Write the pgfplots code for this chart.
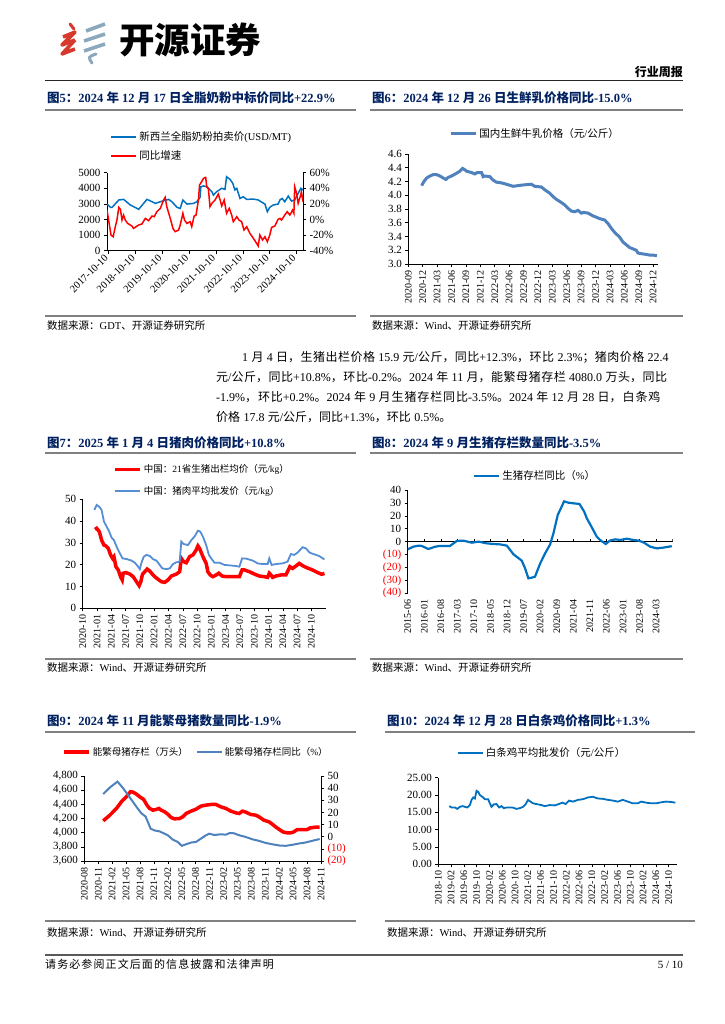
\documentclass[border=0pt]{standalone}
\usepackage{pgfplots}
\pgfplotsset{compat=1.18}
\usepackage{fontspec}
\setmainfont{Liberation Serif}
\newfontfamily\cjk{Noto Sans CJK SC}
\newfontfamily\cjkfoot[LetterSpace=10]{Noto Sans CJK SC}
\def\cjkcur{\cjk}
\newXeTeXintercharclass\CJKcls
\newcount\cjkc
\def\setcjkrange#1#2{\cjkc=#1\relax\loop\XeTeXcharclass\cjkc=\CJKcls\relax\ifnum\cjkc<#2\relax\advance\cjkc by 1\relax\repeat}
\setcjkrange{"3000}{"303F}
\setcjkrange{"4E00}{"9FFF}
\setcjkrange{"FF00}{"FFEF}
\XeTeXinterchartoks 0 \CJKcls = {\cjkcur}
\XeTeXinterchartoks 4095 \CJKcls = {\cjkcur}
\XeTeXinterchartoks \CJKcls 0 = {\rmfamily}
\XeTeXinterchartoks \CJKcls 4095 = {\rmfamily}
\XeTeXinterchartokenstate=1

\definecolor{navy}{RGB}{0,32,96}
\definecolor{c5blue}{RGB}{0,112,192}
\definecolor{sblue}{RGB}{79,129,189}
\definecolor{c7blue}{RGB}{85,142,213}
\definecolor{rred}{RGB}{255,0,0}
\definecolor{logored}{RGB}{214,58,44}
\definecolor{logogray}{RGB}{140,168,188}
\definecolor{rule}{RGB}{128,128,128}

\pgfplotsset{
  myax/.style={scale only axis, anchor=south west,
    axis line style={black, line width=0.6pt},
    tick style={black, line width=0.5pt}, major tick length=3pt, tick align=outside,
    /pgf/number format/assume math mode=true, scaled ticks=false,
    yticklabel style={font=\fontsize{11}{11}\selectfont},
    xticklabel style={font=\fontsize{10}{10}\selectfont, rotate=90, anchor=east},
    legend style={draw=none, fill=none, font=\fontsize{10.5}{12}\selectfont, inner sep=0pt},
    legend cell align=left,
    legend image code/.code={\draw[##1] (0pt,0pt) -- (25pt,0pt);},
  }
}
\newcommand\ttl[1]{{\fontsize{12.5}{14}\selectfont\bfseries\color{navy}#1}}
\newcommand\src[1]{{\fontsize{10.5}{12}\selectfont #1}}

\begin{document}
\begin{tikzpicture}[x=1pt,y=1pt]
\path[use as bounding box] (0,0) rectangle (724,-1024);

% ---------- header ----------
\draw[logored, line width=3pt, line cap=round] (70,-24) -- (74,-29);
\draw[logored, line width=3.6pt, line join=round] (63,-37) -- (75,-32) -- (62,-45) -- (75,-40);
\draw[logored, line width=3.6pt, line join=round] (75,-40) -- (62,-54) -- (75,-49);
\draw[logogray, line width=3.6pt, line join=round] (86,-31) -- (105,-24);
\draw[logogray, line width=3.6pt, line join=round] (84,-41) -- (105,-34);
\draw[logogray, line width=3.6pt, line join=round] (84,-51) -- (105,-44);
\draw[logogray, line width=3pt, line cap=round] (96,-54) .. controls (88,-57) .. (92,-63);
\node[anchor=base west, inner sep=0pt] at (119,-54) {\fontsize{35.5}{36}\selectfont\bfseries 开源证券};
\node[anchor=base east, inner sep=0pt] at (683,-77) {\fontsize{12}{14}\selectfont\bfseries 行业周报};
\draw[black!85, line width=1.3pt] (45,-80.5) -- (683,-80.5);

% ---------- titles and rules ----------
\node[anchor=base west, inner sep=0pt] at (47,-103) {\ttl{图5：2024 年 12 月 17 日全脂奶粉中标价同比+22.9\%}};
\node[anchor=base west, inner sep=0pt] at (372,-103) {\ttl{图6：2024 年 12 月 26 日生鲜乳价格同比-15.0\%}};
\draw[rule, line width=1.4pt] (45,-110) -- (356,-110);
\draw[rule, line width=1.4pt] (370,-110) -- (683,-110);

\draw[rule, line width=1.2pt] (45,-316) -- (356,-316);
\draw[rule, line width=1.2pt] (370,-316) -- (683,-316);
\node[anchor=base west, inner sep=0pt] at (47,-329) {\src{数据来源：GDT、开源证券研究所}};
\node[anchor=base west, inner sep=0pt] at (372,-329) {\src{数据来源：Wind、开源证券研究所}};

% ---------- body text ----------
\node[anchor=base west, inner sep=0pt, text width=462pt] at (216,-361) {\fontsize{12}{20.2}\selectfont\parindent=0pt
\XeTeXlinebreaklocale "zh"\XeTeXlinebreakskip=0pt plus 1pt\relax
\hspace*{26pt}1 月 4 日，生猪出栏价格 15.9 元/公斤，同比+12.3\%，环比 2.3\%；猪肉价格 22.4\linebreak
元/公斤，同比+10.8\%，环比-0.2\%。2024 年 11 月，能繁母猪存栏 4080.0 万头，同比\linebreak
-1.9\%，环比+0.2\%。2024 年 9 月生猪存栏同比-3.5\%。2024 年 12 月 28 日，白条鸡\linebreak
价格 17.8 元/公斤，同比+1.3\%，环比 0.5\%。\par};

\node[anchor=base west, inner sep=0pt] at (47,-447) {\ttl{图7：2025 年 1 月 4 日猪肉价格同比+10.8\%}};
\node[anchor=base west, inner sep=0pt] at (372,-447) {\ttl{图8：2024 年 9 月生猪存栏数量同比-3.5\%}};
\draw[rule, line width=1.4pt] (45,-453) -- (356,-453);
\draw[rule, line width=1.4pt] (370,-453) -- (683,-453);

\draw[rule, line width=1.2pt] (45,-659) -- (356,-659);
\draw[rule, line width=1.2pt] (370,-659) -- (683,-659);
\node[anchor=base west, inner sep=0pt] at (47,-671) {\src{数据来源：Wind、开源证券研究所}};
\node[anchor=base west, inner sep=0pt] at (372,-671) {\src{数据来源：Wind、开源证券研究所}};

\node[anchor=base west, inner sep=0pt] at (47,-725) {\ttl{图9：2024 年 11 月能繁母猪数量同比-1.9\%}};
\node[anchor=base west, inner sep=0pt] at (387,-725) {\ttl{图10：2024 年 12 月 28 日白条鸡价格同比+1.3\%}};
\draw[rule, line width=1.4pt] (45,-732) -- (356,-732);
\draw[rule, line width=1.4pt] (385,-732) -- (695,-732);

\draw[rule, line width=1.2pt] (45,-921) -- (356,-921);
\draw[rule, line width=1.2pt] (385,-921) -- (695,-921);
\node[anchor=base west, inner sep=0pt] at (47,-936) {\src{数据来源：Wind、开源证券研究所}};
\node[anchor=base west, inner sep=0pt] at (387,-936) {\src{数据来源：Wind、开源证券研究所}};

% ---------- footer ----------
\draw[black!65, line width=1.8pt] (45,-955) -- (683,-955);
\node[anchor=base west, inner sep=0pt] at (45,-968) {\fontsize{11}{12}\selectfont\def\cjkcur{\cjkfoot}请务必参阅正文后面的信息披露和法律声明};
\node[anchor=base east, inner sep=0pt] at (683,-968) {\fontsize{11}{12}\selectfont 5 / 10};

% ================= Chart 5 =================
\begin{axis}[myax, at={(107pt,-250.7pt)}, width=196pt, height=78pt,
  xmin=2017.71, xmax=2025.02, ymin=0, ymax=5000,
  axis x line*=bottom, axis y line*=left,
  ytick={0,1000,2000,3000,4000,5000}, /pgf/number format/1000 sep={},
  xtick={2017.775,2018.775,2019.775,2020.775,2021.775,2022.775,2023.775,2024.775},
  xticklabels={2017-10-10,2018-10-10,2019-10-10,2020-10-10,2021-10-10,2022-10-10,2023-10-10,2024-10-10},
  xticklabel style={rotate=-45, anchor=east, font=\fontsize{10.5}{10.5}\selectfont}]
\addplot[c5blue, line width=1.5pt] coordinates {
(2017.71,2990) (2017.84,2780) (2017.90,2780) (2018.15,3250) (2018.33,3290) (2018.58,2930) (2018.83,2710) (2018.89,2650) (2019.20,3290) (2019.39,3140) (2019.51,3030) (2019.70,3140) (2019.88,3230) (2020.01,3290) (2020.13,3140) (2020.32,2780) (2020.44,2710) (2020.54,3250) (2020.69,2990) (2020.93,3030) (2021.06,3140) (2021.18,3420) (2021.21,4100) (2021.31,4150) (2021.43,4100) (2021.62,3780) (2021.68,3570) (2021.80,3780) (2021.99,4000) (2022.11,3930) (2022.17,4740) (2022.30,4570) (2022.40,4320) (2022.48,3890) (2022.55,4000) (2022.67,3350) (2022.79,3460) (2022.92,3290) (2023.17,3310) (2023.35,3250) (2023.47,3120) (2023.60,2990) (2023.69,2500) (2023.78,2780) (2023.91,2930) (2024.09,2990) (2024.16,3250) (2024.24,3350) (2024.34,3140) (2024.47,3500) (2024.59,3180) (2024.71,3250) (2024.84,3680) (2024.94,4000) (2025.02,3890)};
\end{axis}
\begin{axis}[myax, at={(107pt,-250.7pt)}, width=196pt, height=78pt,
  xmin=2017.71, xmax=2025.02, ymin=-40, ymax=60,
  axis x line=none, axis y line*=right,
  ytick={-40,-20,0,20,40,60}, yticklabel={\pgfmathprintnumber{\tick}\%},
  legend style={at={(0.015,1.55)}, anchor=north west, row sep=4pt}]
\addlegendimage{c5blue, line width=2.2pt}
\addlegendentry{新西兰全脂奶粉拍卖价(USD/MT)}
\addlegendimage{rred, line width=2.2pt}
\addlegendentry{同比增速}
\addplot[rred, line width=1.5pt, forget plot] coordinates {
(2017.71,12.1) (2017.86,-19.9) (2017.94,-22.1) (2018.02,-9.2) (2018.08,-0.7) (2018.15,15.5) (2018.21,13.0) (2018.27,-0.7) (2018.33,5.7) (2018.39,-0.7) (2018.48,-5.0) (2018.64,-8.4) (2018.70,-11.4) (2018.89,-7.1) (2019.01,-5.8) (2019.14,1.4) (2019.26,-1.5) (2019.39,4.4) (2019.47,3.6) (2019.57,10.0) (2019.70,14.3) (2019.82,25.0) (2019.88,28.4) (2019.94,16.4) (2020.07,1.4) (2020.17,-11.4) (2020.25,-15.6) (2020.38,-13.5) (2020.44,-7.1) (2020.54,7.9) (2020.60,-0.7) (2020.69,-5.0) (2020.81,-2.8) (2020.87,-9.2) (2020.96,4.4) (2021.03,5.7) (2021.12,25.0) (2021.16,44.2) (2021.24,48.5) (2021.31,52.7) (2021.39,54.0) (2021.43,42.0) (2021.49,39.9) (2021.55,16.4) (2021.62,20.7) (2021.74,25.0) (2021.86,32.6) (2021.93,25.0) (2021.99,17.3) (2022.08,25.0) (2022.17,7.9) (2022.27,14.3) (2022.36,5.7) (2022.42,-2.8) (2022.55,3.6) (2022.63,-0.7) (2022.73,-2.8) (2022.82,-13.5) (2022.92,-9.2) (2023.04,-17.8) (2023.17,-24.2) (2023.29,-30.6) (2023.35,-34.0) (2023.41,-19.9) (2023.51,-26.3) (2023.60,-22.1) (2023.69,-28.5) (2023.78,-19.9) (2023.85,-10.1) (2023.97,-8.4) (2024.09,0.2) (2024.16,1.4) (2024.22,-0.7) (2024.34,5.7) (2024.43,10.0) (2024.53,5.7) (2024.63,12.1) (2024.68,7.9) (2024.71,42.0) (2024.78,33.5) (2024.84,20.7) (2024.93,31.0) (2024.96,35.6) (2025.02,22.8)};
\end{axis}

% ================= Chart 6 =================
\begin{axis}[myax, at={(408.3pt,-264pt)}, width=249.7pt, height=110pt,
  xmin=0, xmax=52, ymin=3, ymax=4.6,
  axis x line*=bottom, axis y line*=left,
  ytick={3.0,3.2,3.4,3.6,3.8,4.0,4.2,4.4,4.6},
  yticklabel style={/pgf/number format/.cd, fixed, fixed zerofill, precision=1},
  xtick={0,3,...,51},
  xticklabels={2020-09,2020-12,2021-03,2021-06,2021-09,2021-12,2022-03,2022-06,2022-09,2022-12,2023-03,2023-06,2023-09,2023-12,2024-03,2024-06,2024-09,2024-12},
  legend style={at={(0.164,1.182)}, anchor=west}]
\addplot[sblue, line width=3pt] coordinates {
(2.77,4.14) (3.26,4.20) (3.81,4.25) (4.50,4.28) (5.20,4.30) (5.89,4.30) (6.58,4.28) (7.28,4.25) (7.83,4.23) (8.32,4.26) (9.01,4.28) (10.05,4.32) (10.74,4.35) (11.30,4.39) (11.78,4.37) (12.13,4.35) (13.17,4.33) (13.86,4.31) (14.35,4.33) (15.25,4.33) (15.59,4.27) (15.94,4.28) (16.98,4.27) (17.67,4.22) (18.36,4.19) (19.40,4.18) (20.44,4.16) (21.83,4.13) (22.87,4.14) (23.91,4.15) (25.64,4.16) (26.33,4.13) (27.72,4.12) (28.41,4.08) (29.45,4.03) (30.15,3.98) (30.84,3.94) (31.53,3.91) (32.57,3.86) (33.26,3.81) (33.96,3.77) (34.65,3.76) (35.34,3.78) (36.04,3.74) (36.52,3.75) (37.42,3.74) (38.46,3.70) (39.85,3.66) (40.89,3.64) (41.58,3.59) (42.27,3.52) (42.97,3.46) (44.01,3.39) (44.70,3.32) (45.39,3.28) (46.08,3.24) (46.78,3.22) (47.47,3.20) (47.82,3.16) (48.51,3.15) (49.55,3.14) (50.24,3.13) (50.94,3.13) (51.77,3.12)};
\addlegendentry{国内生鲜牛乳价格（元/公斤）}
\end{axis}

% ================= Chart 7 =================
\begin{axis}[myax, at={(82.7pt,-608.3pt)}, width=243pt, height=109pt,
  xmin=0, xmax=51, ymin=0, ymax=50,
  axis x line*=bottom, axis y line*=left,
  ytick={0,10,20,30,40,50},
  xtick={0,3,...,48},
  xticklabels={2020-10,2021-01,2021-04,2021-07,2021-10,2022-01,2022-04,2022-07,2022-10,2023-01,2023-04,2023-07,2023-10,2024-01,2024-04,2024-07,2024-10},
  legend style={at={(0.125,1.34)}, anchor=north west, row sep=8pt, font=\fontsize{9.5}{11}\selectfont}]
\addplot[rred, line width=3.5pt] coordinates {
(2.58,36.2) (2.93,36.7) (3.48,35.2) (3.97,31.3) (4.46,29.0) (4.88,28.6) (5.37,27.5) (5.85,24.5) (6.27,22.9) (6.55,23.7) (6.97,19.1) (7.46,17.6) (7.94,14.5) (8.29,13.0) (8.50,16.1) (9.06,16.4) (9.90,15.7) (10.59,14.5) (11.29,12.2) (11.85,10.4) (12.20,12.2) (12.54,15.6) (13.03,16.8) (13.52,18.0) (14.08,17.1) (14.63,15.6) (15.12,14.5) (15.82,13.3) (16.52,12.2) (17.21,11.9) (17.91,13.0) (18.61,14.8) (19.65,15.7) (20.35,16.8) (20.70,22.9) (21.18,21.4) (21.74,20.9) (22.44,23.7) (23.14,24.5) (23.83,26.8) (24.18,28.6) (24.53,27.5) (25.23,23.7) (25.92,20.6) (26.27,16.8) (26.76,15.3) (27.32,14.5) (28.01,15.3) (28.57,16.1) (29.27,14.8) (30.10,14.5) (31.50,14.5) (32.89,14.5) (33.45,17.6) (33.94,17.6) (34.98,16.8) (36.03,15.7) (37.07,14.8) (38.12,14.5) (38.82,14.2) (39.16,16.1) (39.51,15.3) (39.86,14.2) (40.56,14.8) (41.60,15.3) (42.65,15.3) (43.48,19.1) (44.04,18.3) (44.74,19.4) (45.44,20.6) (46.13,19.6) (46.83,18.8) (47.53,18.2) (48.22,17.6) (48.92,16.8) (49.62,16.1) (50.17,15.6) (50.73,16.0)};
\addlegendentry{中国：21省生猪出栏均价（元/kg）}
\addplot[c7blue, line width=1.8pt] coordinates {
(2.44,45.1) (2.93,47.4) (3.48,46.6) (3.97,45.1) (4.46,39.8) (5.02,37.5) (5.57,35.2) (6.06,32.4) (6.55,31.3) (7.11,28.3) (7.80,25.2) (8.36,22.9) (9.20,22.6) (10.24,21.9) (10.94,20.9) (11.64,19.1) (11.99,18.0) (12.33,20.9) (12.82,23.7) (13.38,24.5) (14.08,24.0) (14.77,22.5) (15.47,21.9) (16.17,19.9) (16.72,18.3) (17.56,18.0) (18.26,18.3) (18.95,20.3) (19.65,21.1) (20.35,21.4) (20.70,30.6) (21.18,29.5) (22.09,29.0) (22.79,31.3) (23.48,32.9) (24.18,35.6) (24.67,35.2) (25.23,32.9) (25.92,29.0) (26.48,24.5) (26.97,22.9) (27.67,20.9) (28.71,20.9) (29.76,19.9) (30.80,19.7) (32.20,19.4) (32.89,19.1) (33.45,22.9) (34.29,22.8) (35.68,21.9) (36.72,20.6) (37.77,20.3) (38.82,20.3) (39.16,22.9) (39.65,19.9) (40.56,20.3) (41.95,20.6) (43.00,21.4) (43.69,24.9) (44.39,24.5) (45.09,25.5) (46.13,28.0) (46.83,27.5) (47.67,25.5) (48.57,24.8) (49.62,24.0) (50.73,22.4)};
\addlegendentry{中国：猪肉平均批发价（元/kg）}
\end{axis}

% ================= Chart 8 =================
\begin{axis}[myax, at={(407.7pt,-593.3pt)}, width=265pt, height=103.3pt,
  xmin=0, xmax=112, ymin=-40, ymax=40,
  axis x line*=bottom, axis y line*=left,
  x axis line style={draw=none}, xtick style={draw=none},
  ytick={-40,-30,-20,-10,0,10,20,30,40},
  yticklabels={{\textcolor{rred}{(40)}},{\textcolor{rred}{(30)}},{\textcolor{rred}{(20)}},{\textcolor{rred}{(10)}},0,10,20,30,40},
  xtick={0,7,...,105},
  xticklabels={2015-06,2016-01,2016-08,2017-03,2017-10,2018-05,2018-12,2019-07,2020-02,2020-09,2021-04,2021-11,2022-06,2023-01,2023-08,2024-03},
  legend style={at={(0.246,1.136)}, anchor=west}]
\addplot[black, line width=0.6pt, forget plot] coordinates {(0,0) (112,0)};
\addplot[ycomb, black, line width=0.5pt, forget plot] coordinates {(7,2.3) (14,2.3) (21,2.3) (28,2.3) (35,2.3) (42,2.3) (49,2.3) (56,2.3) (63,2.3) (70,2.3) (77,2.3) (84,2.3) (91,2.3) (98,2.3) (105,2.3) (112,2.3)};
\addplot[c5blue, line width=2.2pt] coordinates {
(0,-5.9) (2.4,-3.9) (4.5,-3.1) (5.9,-3.3) (8.7,-5.7) (11.6,-3.9) (13.7,-3.3) (17.9,-3.3) (20.7,0.5) (23.5,0.8) (27.1,-0.8) (29.9,0) (33.4,-1.3) (36.2,-1.8) (39.0,-2.1) (41.9,-3.1) (44.7,-9.8) (48.2,-14.7) (49.6,-20.6) (51.0,-28.4) (52.4,-27.9) (53.8,-27.1) (56.0,-16.8) (58.1,-9.0) (60.2,-2.1) (61.6,6.5) (63.4,20.6) (66.1,31.2) (67.9,30.2) (70.0,29.7) (72.6,29.2) (74.6,23.2) (75.7,18.1) (77.8,11.1) (79.9,3.9) (81.3,1.3) (83.7,-1.8) (85.5,0.8) (87.7,1.8) (89.8,1.3) (92.6,2.3) (94.7,1.5) (97.5,0.8) (99.6,-0.5) (102.5,-3.9) (105.3,-5.2) (108.1,-4.6) (111.6,-3.5)};
\addlegendentry{生猪存栏同比（\%）}
\end{axis}

% ================= Chart 9 =================
\begin{axis}[myax, at={(84.3pt,-861pt)}, width=236.7pt, height=85pt,
  xmin=0, xmax=51, ymin=3600, ymax=4800,
  axis x line*=bottom, axis y line*=left,
  ytick={3600,3800,4000,4200,4400,4600,4800}, /pgf/number format/1000 sep={,},
  xtick={0,3,...,51},
  xticklabels={2020-08,2020-11,2021-02,2021-05,2021-08,2021-11,2022-02,2022-05,2022-08,2022-11,2023-02,2023-05,2023-08,2023-11,2024-02,2024-05,2024-08,2024-11}]
\addplot[rred, line width=3.5pt] coordinates {
(4.07,4167) (5.5,4247) (6.93,4342) (8.0,4436) (9.07,4507) (9.93,4578) (10.5,4573) (11.21,4545) (11.93,4507) (12.79,4469) (13.5,4389) (14.07,4342) (14.79,4318) (15.5,4328) (16.07,4342) (16.57,4318) (17.29,4295) (18.0,4261) (18.71,4214) (19.43,4195) (20.5,4200) (21.21,4224) (21.93,4271) (23.0,4304) (24.07,4332) (25.14,4375) (26.21,4389) (27.29,4398) (28.36,4398) (29.43,4365) (30.5,4342) (31.57,4304) (32.64,4280) (33.36,4271) (34.07,4304) (34.79,4290) (35.86,4257) (36.93,4247) (37.64,4224) (38.71,4176) (39.79,4153) (40.5,4120) (41.21,4082) (41.93,4049) (42.79,4011) (43.71,3997) (44.43,3997) (45.14,4011) (45.86,4044) (46.93,4044) (48.0,4044) (48.71,4068) (49.79,4078) (50.71,4080)};
\end{axis}
\begin{axis}[myax, at={(84.3pt,-861pt)}, width=236.7pt, height=85pt,
  xmin=0, xmax=51, ymin=-20, ymax=50,
  axis x line=none, axis y line*=right,
  ytick={-20,-10,0,10,20,30,40,50},
  yticklabels={{\textcolor{rred}{(20)}},{\textcolor{rred}{(10)}},0,10,20,30,40,50},
  legend columns=2,
  legend style={at={(-0.094,1.282)}, anchor=west, font=\fontsize{9.5}{11}\selectfont,
    /tikz/every even column/.append style={column sep=6pt}}]
\addlegendimage{rred, line width=3.5pt}
\addlegendentry{能繁母猪存栏（万头）}
\addplot[sblue, line width=2pt] coordinates {
(4.07,35.1) (5.5,40.5) (7.14,45.4) (8.36,40.0) (9.79,32.4) (11.21,24.8) (12.29,19.3) (13.21,16.6) (13.71,12.0) (14.29,6.6) (15.14,5.2) (16.21,4.4) (17.29,2.5) (18.0,1.2) (19.07,-2.4) (20.14,-4.3) (21.0,-7.5) (21.93,-6.2) (23.0,-4.8) (24.07,-4.3) (24.93,-2.1) (26.21,1.2) (26.93,2.5) (28.0,1.4) (29.43,2.0) (30.5,1.7) (31.36,3.1) (32.29,2.8) (33.36,1.2) (34.79,-0.2) (36.21,-2.1) (37.64,-3.4) (39.07,-5.1) (40.5,-6.2) (41.93,-7.2) (43.36,-7.5) (44.79,-6.7) (46.21,-5.6) (47.64,-4.8) (49.07,-3.4) (50.71,-1.9)};
\addlegendentry{能繁母猪存栏同比（\%）}
\end{axis}

% ================= Chart 10 =================
\begin{axis}[myax, at={(438.3pt,-864.3pt)}, width=238.4pt, height=86.6pt,
  xmin=0, xmax=74.5, ymin=0, ymax=25,
  axis x line*=bottom, axis y line*=left,
  ytick={0,5,10,15,20,25},
  yticklabel style={/pgf/number format/.cd, fixed, fixed zerofill, precision=2},
  xtick={0,4,...,72},
  xticklabels={2018-10,2019-02,2019-06,2019-10,2020-02,2020-06,2020-10,2021-02,2021-06,2021-10,2022-02,2022-06,2022-10,2023-02,2023-06,2023-10,2024-02,2024-06,2024-10},
  legend style={at={(0.078,1.285)}, anchor=west}]
\addplot[c5blue, line width=1.8pt] coordinates {
(3.43,16.8) (4.16,16.4) (5.19,16.4) (5.92,16.0) (6.75,16.6) (7.58,16.8) (8.31,16.6) (9.04,16.4) (9.87,17.1) (10.39,18.6) (10.91,19.3) (11.43,19.0) (11.95,21.2) (12.47,20.9) (12.99,20.0) (14.03,19.3) (14.55,18.8) (15.58,18.8) (16.10,17.6) (16.62,16.6) (17.35,17.3) (18.18,17.4) (19.01,16.4) (19.74,16.8) (20.47,16.2) (21.30,16.4) (22.13,16.4) (23.17,16.4) (24.42,16.0) (25.45,16.2) (26.49,16.6) (27.32,17.4) (28.05,18.6) (28.78,18.1) (29.61,17.6) (30.65,17.4) (32.21,17.1) (33.25,16.8) (34.81,17.1) (36.36,17.0) (37.71,17.4) (38.75,17.8) (39.79,17.4) (40.83,18.4) (42.08,18.1) (43.64,18.6) (45.19,18.8) (46.75,19.3) (48.31,19.5) (49.87,19.0) (51.43,18.9) (52.99,18.6) (54.55,18.4) (56.10,18.1) (57.66,18.6) (59.22,18.1) (60.78,17.6) (62.34,17.6) (63.38,18.1) (64.94,17.8) (66.49,17.6) (68.05,17.6) (69.61,17.9) (71.17,18.1) (72.73,18.0) (74.08,17.8)};
\addlegendentry{白条鸡平均批发价（元/公斤）}
\end{axis}
\end{tikzpicture}
\end{document}
